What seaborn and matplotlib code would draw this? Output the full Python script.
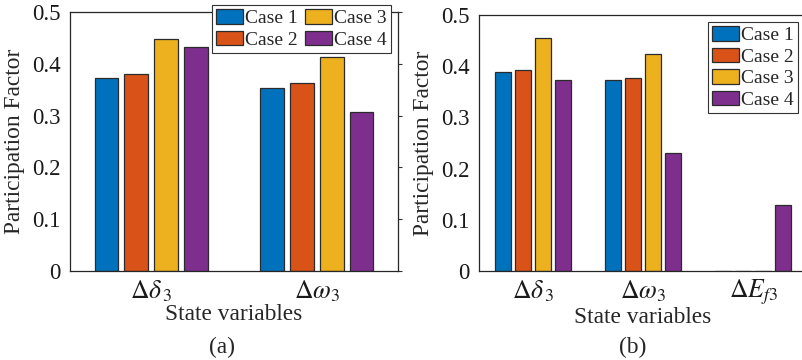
import numpy as np
import pandas as pd
import matplotlib
matplotlib.use("Agg")
import matplotlib.pyplot as plt
from matplotlib.font_manager import FontProperties
import seaborn as sns

sns.set_theme(style="white")
plt.rcParams["font.family"] = ["Liberation Serif", "DejaVu Serif"]
plt.rcParams["mathtext.fontset"] = "stix"

FAM = "Liberation Serif"

cases = ["Case 1", "Case 2", "Case 3", "Case 4"]
colors = ["#0072BD", "#D95319", "#EDB120", "#7E2F8E"]

# Panel (a): two state variables
vars_a = [r"$\Delta\delta_{\,3}$", r"$\Delta\omega_3$"]
pf_a_case1 = [0.372, 0.354]
pf_a_case2 = [0.380, 0.362]
pf_a_case3 = [0.447, 0.413]
pf_a_case4 = [0.432, 0.306]

# Panel (b): three state variables
vars_b = [r"$\Delta\delta_{\,3}$", r"$\Delta\omega_3$", r"$\Delta E_{f3}$"]
pf_b_case1 = [0.389, 0.373, 0.0006]
pf_b_case2 = [0.393, 0.377, 0.0006]
pf_b_case3 = [0.456, 0.424, 0.0006]
pf_b_case4 = [0.374, 0.230, 0.128]

yticks = [0, 0.1, 0.2, 0.3, 0.4, 0.5]
ytick_labels = ["0", "0.1", "0.2", "0.3", "0.4", "0.5"]


def long_table(variables, series):
    rows = []
    for case, vals in zip(cases, series):
        for v, val in zip(variables, vals):
            rows.append({"var": v, "case": case, "pf": val})
    return pd.DataFrame(rows)


df_a = long_table(vars_a, [pf_a_case1, pf_a_case2, pf_a_case3, pf_a_case4])
df_b = long_table(vars_b, [pf_b_case1, pf_b_case2, pf_b_case3, pf_b_case4])

fig = plt.figure(figsize=(8.02, 3.60), dpi=100)
W, H = 802, 360
ax_a = fig.add_axes([70 / W, 1 - 271 / H, 328 / W, 259 / H])
ax_b = fig.add_axes([479 / W, 1 - 271 / H, 328 / W, 256 / H])

fs = 16.5
for ax, df, variables, ncat in [(ax_a, df_a, vars_a, 2), (ax_b, df_b, vars_b, 3)]:
    sns.barplot(data=df, x="var", y="pf", hue="case", order=variables,
                hue_order=cases, palette=colors, width=0.72, gap=0.2,
                edgecolor="#2b2b2b", linewidth=0.9, saturation=1,
                errorbar=None, ax=ax)
    ax.set_xlim(-0.49, ncat - 0.51)
    ax.set_ylim(0, 0.5)
    ax.set_yticks(yticks)
    ax.set_yticklabels(ytick_labels, fontsize=fs, family=FAM)
    ax.set_xticks(range(ncat))
    ax.set_xticklabels(variables, fontsize=18.5, family=FAM)
    ax.tick_params(axis="x", length=0, pad=5)
    ax.tick_params(axis="y", left=False, right=True, direction="out",
                   length=3, width=0.8, color="#333333", pad=4)
    ax.set_xlabel("State variables", fontsize=fs + 0.3, family=FAM,
                  labelpad=0)
    ax.set_ylabel("Participation Factor", fontsize=fs + 0.3, family=FAM,
                  labelpad=5)
    for s in ax.spines.values():
        s.set_color("#262626")
        s.set_linewidth(0.9)
    for t in ax.get_xticklabels() + ax.get_yticklabels():
        t.set_color("#1a1a1a")

leg_kw = dict(prop=FontProperties(family=FAM, size=14), frameon=True,
              fancybox=False, edgecolor="#333333", framealpha=1,
              handlelength=1.39, handleheight=0.77, handletextpad=0.1,
              borderpad=0.22, labelspacing=0.18, borderaxespad=0)

handles_a, labels_a = ax_a.get_legend_handles_labels()
ax_a.legend(handles_a, labels_a, ncol=2, loc="upper right",
            bbox_to_anchor=((391 - 70) / 328, 1 + (12 - 5) / 259),
            columnspacing=0.36, **leg_kw)
ax_a.get_legend().get_frame().set_linewidth(0.8)

handles_b, labels_b = ax_b.get_legend_handles_labels()
ax_b.legend(handles_b, labels_b, ncol=1, loc="upper right",
            bbox_to_anchor=((798 - 479) / 328, (271 - 22) / 256),
            **leg_kw)
ax_b.get_legend().get_frame().set_linewidth(0.8)

fig.text(222 / W, 1 - 347 / H, "(a)", ha="center", va="center",
         fontsize=fs + 0.3, family=FAM)
fig.text(633 / W, 1 - 347 / H, "(b)", ha="center", va="center",
         fontsize=fs + 0.3, family=FAM)

fig.savefig("out.png", dpi=100)
